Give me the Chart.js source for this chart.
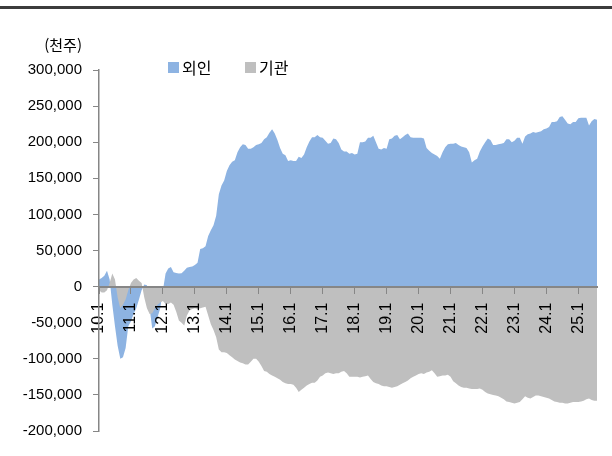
<!DOCTYPE html>
<html lang="ko">
<head>
<meta charset="utf-8">
<title>외인 · 기관 누적 순매수</title>
<script src="https://cdn.jsdelivr.net/npm/chart.js@4.4.1/dist/chart.umd.min.js"></script>
<style>
  html, body { margin: 0; padding: 0; background: #fff; }
  #wrap { position: relative; width: 612px; height: 456px; overflow: hidden; }
  #rule { position: absolute; left: 0; top: 6px; width: 612px; height: 3px; background: #3c3c3c; }
  #unit { position: absolute; right: 530px; top: 35px; font: 15px 'Noto Sans CJK KR', sans-serif; color: #000; line-height: 20px; }
  .lg { position: absolute; top: 56px; display: flex; align-items: center; font: 16px 'Noto Sans CJK KR', sans-serif; color: #000; line-height: 22px; }
  .lg i { display: inline-block; width: 11px; height: 11px; margin-right: 3px; }
  canvas { position: absolute; left: 0; top: 0; }
</style>
</head>
<body>
<div id="wrap">
  <div id="rule"></div>
  <canvas id="c" width="612" height="456"></canvas>
  <div id="unit">(천주)</div>
  <div id="legend"></div>
</div>
<script>
// Cumulative net buying, thousand shares, monthly from 2010.1 to 2025.8
const firstYear = 2010;
const yearTicks = ['10.1','11.1','12.1','13.1','14.1','15.1','16.1','17.1','18.1','19.1','20.1','21.1','22.1','23.1','24.1','25.1'];
const seriesNames = ['외인', '기관'];
const seriesColors = ['#8DB3E2', '#BFBFBF'];

const foreign = [
  10000, 12000, 15000, 22000, 10000, -25000, -55000, -82000, -100000, -98000,
  -85000, -55000, -48000, -38000, -30000, -18000, -5000, 3000, 2000, -30000,
  -58000, -55000, -42000, -30000, -5000, 18000, 25000, 27000, 20000, 19000,
  18000, 18500, 22000, 26000, 27000, 28000, 30000, 33000, 52000, 53000,
  56000, 70000, 78000, 85000, 98000, 128000, 140000, 147000, 160000, 168000,
  173000, 175000, 186000, 193000, 197000, 196000, 191000, 191000, 193000, 196000,
  197000, 199000, 204000, 207000, 213000, 218000, 212000, 203000, 192000, 184000,
  182000, 174000, 175000, 174000, 174000, 180000, 178000, 183000, 193000, 201000,
  207000, 207000, 210000, 207000, 206000, 202000, 198000, 199000, 205000, 204000,
  199000, 190000, 187000, 187000, 184000, 185000, 183000, 184000, 200000, 200000,
  201000, 206000, 206000, 209000, 200000, 191000, 190000, 192000, 191000, 204000,
  205000, 209000, 210000, 204000, 207000, 210000, 212000, 207000, 206000, 206000,
  206000, 206000, 205000, 192000, 188000, 185000, 183000, 181000, 177000, 186000,
  193000, 197000, 198000, 198000, 199000, 196000, 194000, 193000, 192000, 186000,
  172000, 175000, 177000, 187000, 194000, 200000, 205000, 203000, 196000, 196000,
  197000, 198000, 199000, 204000, 204000, 200000, 202000, 206000, 206000, 198000,
  208000, 211000, 212000, 214000, 213000, 214000, 215000, 218000, 219000, 221000,
  228000, 228000, 229000, 235000, 236000, 231000, 226000, 225000, 228000, 228000,
  233000, 234000, 234000, 234000, 223000, 229000, 232000, 231000
];

const institution = [
  -5000, -8000, -8000, -5000, 5000, 18000, 10000, -15000, -30000, -25000,
  -18000, -5000, 5000, 10000, 12000, 8000, 5000, -15000, -30000, -38000,
  -37000, -30000, -25000, -22000, -20000, -24000, -24000, -22000, -25000, -35000,
  -47000, -50000, -54000, -40000, -33000, -31000, -30000, -31000, -30000, -29000,
  -28000, -40000, -52000, -60000, -70000, -87000, -91000, -91000, -92000, -95000,
  -98000, -101000, -103000, -105000, -106000, -108000, -108000, -104000, -100000, -100000,
  -104000, -110000, -117000, -118000, -121000, -123000, -125000, -127000, -129000, -132000,
  -134000, -135000, -135000, -136000, -140000, -146000, -143000, -140000, -137000, -135000,
  -133000, -133000, -130000, -125000, -123000, -120000, -119000, -120000, -121000, -120000,
  -120000, -118000, -117000, -120000, -125000, -125000, -125000, -125000, -126000, -125000,
  -124000, -123000, -128000, -132000, -134000, -135000, -137000, -138000, -138000, -139000,
  -140000, -139000, -138000, -136000, -134000, -132000, -130000, -127000, -125000, -123000,
  -121000, -120000, -121000, -119000, -118000, -116000, -120000, -125000, -124000, -123000,
  -123000, -122000, -125000, -131000, -134000, -137000, -139000, -140000, -140000, -141000,
  -142000, -142000, -142000, -141000, -143000, -146000, -148000, -149000, -150000, -151000,
  -152000, -154000, -156000, -159000, -160000, -161000, -162000, -161000, -160000, -156000,
  -152000, -154000, -155000, -153000, -151000, -151000, -152000, -153000, -154000, -155000,
  -157000, -159000, -160000, -161000, -161000, -162000, -162000, -161000, -160000, -160000,
  -160000, -159000, -158000, -156000, -155000, -157000, -158000, -158000
];

// month labels "yy.m"
const monthLabels = foreign.map((_, i) => {
  const yy = String((firstYear + Math.floor(i / 12)) % 100).padStart(2, '0');
  return yy + '.' + (i % 12 + 1);
});

const AXIS = '#868686';
const NUM_FAMILY = "'Liberation Sans', 'Noto Sans CJK KR', sans-serif";

// legend
const legendEl = document.getElementById('legend');
const legendX = [168, 245];
seriesNames.forEach((name, k) => {
  const d = document.createElement('div');
  d.className = 'lg';
  d.style.left = legendX[k] + 'px';
  d.innerHTML = '<i style="background:' + seriesColors[k] + '"></i><span>' + name + '</span>';
  legendEl.appendChild(d);
});

new Chart(document.getElementById('c'), {
  type: 'line',
  data: {
    labels: monthLabels,
    datasets: [
      { label: seriesNames[0], data: foreign, backgroundColor: seriesColors[0], borderColor: 'rgba(0,0,0,0)',
        borderWidth: 0, pointRadius: 0, fill: 'origin', tension: 0, order: 1 },
      { label: seriesNames[1], data: institution, backgroundColor: seriesColors[1], borderColor: 'rgba(0,0,0,0)',
        borderWidth: 0, pointRadius: 0, fill: 'origin', tension: 0, order: 0 }
    ]
  },
  options: {
    responsive: false,
    animation: false,
    devicePixelRatio: 1,
    layout: { padding: { left: 0, top: 70, right: 15, bottom: 25 } },
    plugins: { legend: { display: false }, tooltip: { enabled: false } },
    scales: {
      x: {
        type: 'category',
        position: { y: 0 },
        offset: false,
        grid: {
          drawOnChartArea: false,
          tickLength: 6,
          tickWidth: 1,
          tickColor: (c) => (yearTicks.includes(monthLabels[c.index]) ? AXIS : 'rgba(0,0,0,0)'),
          z: 1
        },
        border: { color: AXIS, width: 2, z: 1 },
        ticks: {
          autoSkip: false,
          minRotation: 90,
          maxRotation: 90,
          padding: 10,
          color: '#000',
          font: { family: NUM_FAMILY, size: 16 },
          z: 1,
          callback: function (v) {
            const lab = this.getLabelForValue(v);
            return yearTicks.includes(lab) ? lab : '';
          }
        },
        afterCalculateLabelRotation: (s) => { s.paddingRight = 0; },
        afterFit: (s) => { s.paddingRight = 0; s.paddingLeft = 0; }
      },
      y: {
        min: -200000,
        max: 300000,
        grid: { drawOnChartArea: false, tickLength: 6, color: AXIS },
        border: { color: AXIS, width: 1.5, z: 1 },
        ticks: {
          stepSize: 50000,
          padding: 11,
          color: '#000',
          font: { family: NUM_FAMILY, size: 15 },
          callback: (v) => v.toLocaleString('en-US')
        },
        afterFit: (s) => { s.width = 99; }
      }
    }
  }
});
</script>
</body>
</html>
